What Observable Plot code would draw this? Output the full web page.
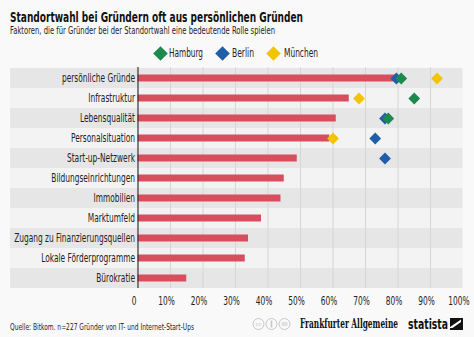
<!DOCTYPE html>
<html>
<head>
<meta charset="utf-8">
<script src="https://cdn.jsdelivr.net/npm/d3@7"></script>
<script src="https://cdn.jsdelivr.net/npm/@observablehq/plot@0.6"></script>
<style>
  html, body { margin: 0; padding: 0; }
  body { width: 474px; height: 337px; background: #f9f9f9; position: relative; overflow: hidden;
         font-family: "DejaVu Sans Condensed", "DejaVu Sans", sans-serif; color: #222; }
  .abs { position: absolute; white-space: nowrap; transform-origin: 0 50%; line-height: 1; }
  #title { left: 10px; top: 10px; font-size: 14px; font-weight: bold; color: #111; }
  #subtitle { left: 10px; top: 26px; font-size: 10px; color: #222; }
  #chart { position: absolute; left: 0; top: 62px; }
  #source { left: 10px; top: 322px; font-size: 9.5px; color: #222; }
  .leg { position: absolute; top: 46px; }
  .legtxt { position: absolute; top: 48px; font-size: 11.5px; white-space: nowrap; transform-origin: 0 50%; line-height: 1; color: #222; }
  #faz { left: 300px; top: 318px; font-family: "DejaVu Serif", "Liberation Serif", serif; font-size: 12px; color: #111; font-weight: bold; }
  #statista { left: 408px; top: 317px; font-family: "DejaVu Sans Condensed", sans-serif; font-weight: bold; font-size: 14px; color: #111; }
</style>
</head>
<body>
<div id="title" class="abs">Standortwahl bei Gründern oft aus persönlichen Gründen</div>
<div id="subtitle" class="abs">Faktoren, die für Gründer bei der Standortwahl eine bedeutende Rolle spielen</div>
<div id="legend"></div>
<div id="chart"></div>
<div id="source" class="abs">Quelle: Bitkom. n=227 Gründer von IT- und Internet-Start-Ups</div>
<svg style="position:absolute;left:252px;top:317px" width="40" height="14" viewBox="0 0 40 14">
  <g fill="none" stroke="#c8c8c8" stroke-width="1">
    <circle cx="6.5" cy="7" r="5.5"/><circle cx="19.5" cy="7" r="5.5"/><circle cx="32.5" cy="7" r="5.5"/>
  </g>
  <text x="6.5" y="9" font-size="5.5" text-anchor="middle" fill="#c8c8c8" font-family="DejaVu Sans">cc</text>
  <path d="M19.5,3.5v7" stroke="#c8c8c8" stroke-width="1.6"/>
  <path d="M29.5,6h6M29.5,8h6" stroke="#c8c8c8" stroke-width="1"/>
</svg>
<div id="faz" class="abs">Frankfurter Allgemeine</div>
<div id="statista" class="abs">statista</div>
<svg style="position:absolute;left:450px;top:318px" width="13" height="12" viewBox="0 0 13 12">
  <rect width="13" height="12" fill="#111"/>
  <path d="M0,9 L11,1.5 L11,4 L2.5,10 L0,10Z" fill="#f9f9f9"/>
</svg>
<script>
// Categories and overall values (share of founders)
const categories = ["persönliche Gründe", "Infrastruktur", "Lebensqualität", "Personalsituation",
  "Start-up-Netzwerk", "Bildungseinrichtungen", "Immobilien", "Marktumfeld",
  "Zugang zu Finanzierungsquellen", "Lokale Förderprogramme", "Bürokratie"];
const overall = [0.80, 0.65, 0.61, 0.59, 0.49, 0.45, 0.44, 0.38, 0.34, 0.33, 0.15];

// City values (only where shown)
const cities = ["Hamburg", "Berlin", "München"];
const cityColors = ["#1b8a4c", "#1f5ea8", "#f2c500"];
const hamburgCats = ["persönliche Gründe", "Infrastruktur", "Lebensqualität"];
const hamburgVals = [0.81, 0.85, 0.77];
const berlinCats = ["persönliche Gründe", "Lebensqualität", "Personalsituation", "Start-up-Netzwerk"];
const berlinVals = [0.795, 0.76, 0.73, 0.76];
const muenchenCats = ["persönliche Gründe", "Infrastruktur", "Personalsituation"];
const muenchenVals = [0.92, 0.68, 0.60];

const xTicks = [0, 0.1, 0.2, 0.3, 0.4, 0.5, 0.6, 0.7, 0.8, 0.9, 1.0];
const xTickLabels = ["0", "10%", "20%", "30%", "40%", "50%", "60%", "70%", "80%", "90%", "100%"];

const rows = categories.map((c, i) => ({category: c, value: overall[i], idx: i}));
const points = [
  ...berlinCats.map((c, i) => ({category: c, value: berlinVals[i], city: "Berlin"})),
  ...hamburgCats.map((c, i) => ({category: c, value: hamburgVals[i], city: "Hamburg"})),
  ...muenchenCats.map((c, i) => ({category: c, value: muenchenVals[i], city: "München"}))
];

// squeeze an HTML text element horizontally to a target width (condensed look)
function fit(el, target) {
  const w = el.getBoundingClientRect().width;
  el.style.transform = `scaleX(${target / w})`;
}
fit(document.getElementById("title"), 293);
fit(document.getElementById("subtitle"), 265);
fit(document.getElementById("source"), 184);
fit(document.getElementById("faz"), 98);
fit(document.getElementById("statista"), 40);

// Legend
const legendPos = [[160.7, 169, 34], [222.7, 232, 22], [273, 284, 34]];
cities.forEach((c, i) => {
  const [cx, tx, tw] = legendPos[i];
  const d = document.createElement("div");
  d.className = "leg";
  d.style.left = (cx - 7.5) + "px";
  d.innerHTML = `<svg width="15" height="15" viewBox="-7.5 -7.5 15 15"><path d="M0,-7.3L7.3,0L0,7.3L-7.3,0Z" fill="${cityColors[i]}"/></svg>`;
  document.body.appendChild(d);
  const t = document.createElement("div");
  t.className = "legtxt";
  t.style.left = tx + "px";
  t.textContent = c;
  document.body.appendChild(t);
  fit(t, tw);
});

const chart = Plot.plot({
  width: 474,
  height: 250,
  marginLeft: 137.5,
  marginRight: 11.5,
  marginTop: 5,
  marginBottom: 24,
  style: {fontFamily: '"DejaVu Sans Condensed", sans-serif', fontSize: "11.5px", background: "transparent", color: "#222"},
  x: {domain: [0, 1], label: null},
  y: {domain: categories, padding: 0, label: null},
  color: {domain: cities, range: cityColors},
  marks: [
    Plot.barX(rows, {x1: 0, x2: 1, y: "category", fill: (d) => d.idx % 2 === 0 ? "#e6e6e6" : "#f3f3f3", insetLeft: -127.5}),
    Plot.ruleX(xTicks.slice(1, -1), {stroke: "#d6d6d6", strokeWidth: 1}),
    Plot.barX(rows, {x: "value", y: "category", fill: "#d84e5f", insetTop: 6.5, insetBottom: 6.5}),
    Plot.ruleX([0], {stroke: "#333", strokeWidth: 1.2}),
    Plot.dot(points, {x: "value", y: "category", fill: "city", symbol: "diamond2", r: 5.3, style: {mixBlendMode: "multiply"}}),
    Plot.axisX({ticks: xTicks, tickFormat: (d) => xTickLabels[xTicks.indexOf(d)], tickSize: 0, tickPadding: 8, label: null, fill: "#222", fontSize: 11.5}),
    Plot.axisY({tickSize: 0, tickPadding: 3, label: null, fill: "#222", fontSize: 11.5})
  ]
});
// condense axis label text horizontally
chart.querySelectorAll('g[aria-label="x-axis tick label"] text').forEach((t) => {
  const tr = t.getAttribute("transform") || "";
  t.setAttribute("transform", tr + " translate(-4,0) scale(0.72,1)");
});
chart.querySelectorAll('g[aria-label="y-axis tick label"] text').forEach((t) => {
  const tr = t.getAttribute("transform") || "";
  t.setAttribute("transform", tr + " scale(0.72,1)");
});
document.getElementById("chart").appendChild(chart);
</script>
</body>
</html>
